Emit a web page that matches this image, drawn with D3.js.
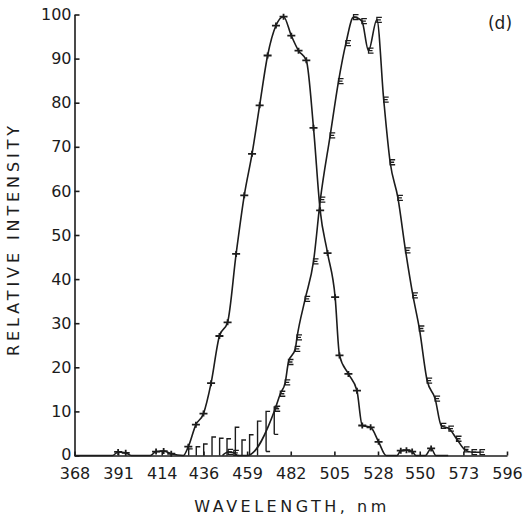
<!DOCTYPE html>
<html lang="en">
<head>
    <meta charset="UTF-8">
    <title>Relative intensity vs wavelength (d)</title>
    <script src="https://d3js.org/d3.v7.min.js"></script>
    <style>
        body { margin: 0; background: #fff; }
        text { font-family: "DejaVu Sans", sans-serif; fill: #1c1c1c; }
    </style>
</head>
<body>
    <div id="chart"></div>

    <script>
        // datos
        const xTicks = [368, 391, 414, 436, 459, 482, 505, 528, 550, 573, 596];
        const yTicks = [0, 10, 20, 30, 40, 50, 60, 70, 80, 90, 100];

        // curva 1 (marcas +)
        const curve1Nm = [368, 388, 391, 395, 398, 408, 411, 415, 419, 425.4, 428, 432, 436, 440, 444.4,
            448.7, 453.2, 457.5, 461.6, 465.6, 469.8, 474.2, 478.2, 482.3, 486.1, 490.2, 494, 497.5,
            501.4, 505.4, 507.7, 512.4, 516.9, 519.7, 524.1, 528.3, 532.3, 538, 540, 543, 546, 548,
            553, 556, 558.5, 565];
        const curve1Val = [0, 0, 0.8, 0.6, 0, 0, 0.9, 1.0, 0.4, 0, 2.0, 7.0, 9.5, 16.4, 27.1,
            30.2, 45.7, 59.0, 68.4, 79.4, 90.7, 97.5, 99.5, 95.2, 91.8, 89.6, 74.3, 55.6,
            45.9, 35.9, 22.7, 18.5, 14.7, 6.8, 6.4, 3.1, 0, 0, 1.1, 1.2, 0.9, 0,
            0, 1.6, 0, 0];

        // curva 2 (marcas E)
        const curve2Nm = [446, 449, 452, 454, 458.9, 473.8, 476.5, 479.1, 480.8, 484.4, 485.3, 489.6,
            494, 497.6, 502.8, 507.2, 511.1, 515.1, 519.5, 523, 527.4, 531, 534.4, 538.5, 542.5,
            546.4, 549.8, 553.9, 558.1, 561.4, 565.4, 569.4, 573.6, 577.6, 581.8];
        const curve2Val = [0, 0.8, 0.6, 0, 0, 10.6, 14.0, 16.6, 21.2, 24.2, 26.8, 35.5,
            44.0, 58.0, 72.6, 84.9, 93.5, 99.4, 98.5, 91.8, 98.8, 80.7, 66.5, 58.4, 46.5,
            36.3, 28.8, 17.0, 12.9, 6.7, 6.1, 3.8, 1.4, 0.75, 0.75];

        // barras de error en el flanco bajo
        const errNm = [428.2, 432.2, 436.1, 440.5, 444.5, 448.4, 452.8, 456.3, 460.3, 464.5, 469.0, 473.3];
        const errLow = [0, 0, 0, 0, 0, 0, 0, 0, 0, 0, 0.9, 4.8];
        const errHigh = [1.5, 2.0, 2.6, 4.2, 3.9, 3.8, 6.4, 3.5, 4.7, 7.8, 10.0, 11.0];

        const margin = { top: 14.5, right: 19, bottom: 67.5, left: 74.5 };
        const width = 526 - margin.left - margin.right;
        const height = 523 - margin.top - margin.bottom;
        const ink = "#1c1c1c";

        const svg = d3.select("#chart").append("svg")
            .attr("width", 526)
            .attr("height", 523);
        const g = svg.append("g")
            .attr("transform", `translate(${margin.left},${margin.top})`);

        // escalas
        const xScale = d3.scaleLinear().domain([368, 596]).range([0, width]);
        const yScale = d3.scaleLinear().domain([0, 100]).range([height, 0]);

        // ejes (marcas hacia dentro)
        const xAxis = g.append("g")
            .attr("transform", `translate(0,${height})`)
            .call(d3.axisBottom(xScale).tickValues(xTicks).tickFormat(d3.format("d"))
                .tickSizeInner(-4).tickSizeOuter(0).tickPadding(12));
        const yAxis = g.append("g")
            .call(d3.axisLeft(yScale).tickValues(yTicks).tickFormat(d3.format("d"))
                .tickSizeInner(-5).tickSizeOuter(0).tickPadding(3));
        [xAxis, yAxis].forEach(ax => {
            ax.selectAll("path, line").attr("stroke", ink).attr("stroke-width", 1.6);
            ax.selectAll("text").style("font-size", "16px").attr("fill", ink);
        });
        // el "0" del eje y un poco mas arriba para no pisar el 368
        yAxis.selectAll(".tick text").filter(d => d === 0).attr("dy", "0.22em");

        const line = d3.line()
            .x(d => xScale(d[0]))
            .y(d => yScale(d[1]))
            .curve(d3.curveMonotoneX);

        const c1 = curve1Nm.map((d, i) => [d, curve1Val[i]]);
        const c2 = curve2Nm.map((d, i) => [d, curve2Val[i]]);

        // barras de error
        errNm.forEach((d, i) => {
            const x = xScale(d), y0 = yScale(errLow[i]), y1 = yScale(errHigh[i]);
            let p = `M${x},${y0}V${y1}h4`;
            if (errLow[i] > 0) p += `M${x},${y0}h4`;
            g.append("path").attr("d", p)
                .attr("fill", "none").attr("stroke", ink).attr("stroke-width", 1.4);
        });

        [c1, c2].forEach(c => {
            g.append("path").datum(c)
                .attr("d", line)
                .attr("fill", "none")
                .attr("stroke", ink)
                .attr("stroke-width", 1.6);
        });

        // marcas
        g.selectAll(".m1").data(c1.filter(d => d[1] > 0))
            .enter().append("path")
            .attr("class", "m1")
            .attr("d", d => {
                const x = xScale(d[0]), y = yScale(d[1]);
                return `M${x - 4},${y}H${x + 4}M${x},${y - 3}V${y + 3}`;
            })
            .attr("stroke", ink).attr("stroke-width", 1.8);

        g.selectAll(".m2").data(c2.filter(d => d[1] > 0))
            .enter().append("path")
            .attr("class", "m2")
            .attr("d", d => {
                const x = xScale(d[0]), y = yScale(d[1]);
                return `M${x + 5},${y - 2.5}H${x}V${y + 2.5}H${x + 5}M${x},${y}H${x + 4}`;
            })
            .attr("fill", "none")
            .attr("stroke", ink).attr("stroke-width", 1.3);

        // textos
        svg.append("text")
            .attr("transform", "translate(18.5,239) rotate(-90)")
            .attr("text-anchor", "middle")
            .style("font-size", "16px")
            .style("letter-spacing", "3.9px")
            .text("RELATIVE INTENSITY");

        svg.append("text")
            .attr("x", 292)
            .attr("y", 512)
            .attr("text-anchor", "middle")
            .style("font-size", "16px")
            .style("letter-spacing", "3.5px")
            .text("WAVELENGTH, nm");

        svg.append("text")
            .attr("x", 500)
            .attr("y", 29)
            .attr("text-anchor", "middle")
            .style("font-size", "17px")
            .text("(d)");
    </script>
</body>
</html>
